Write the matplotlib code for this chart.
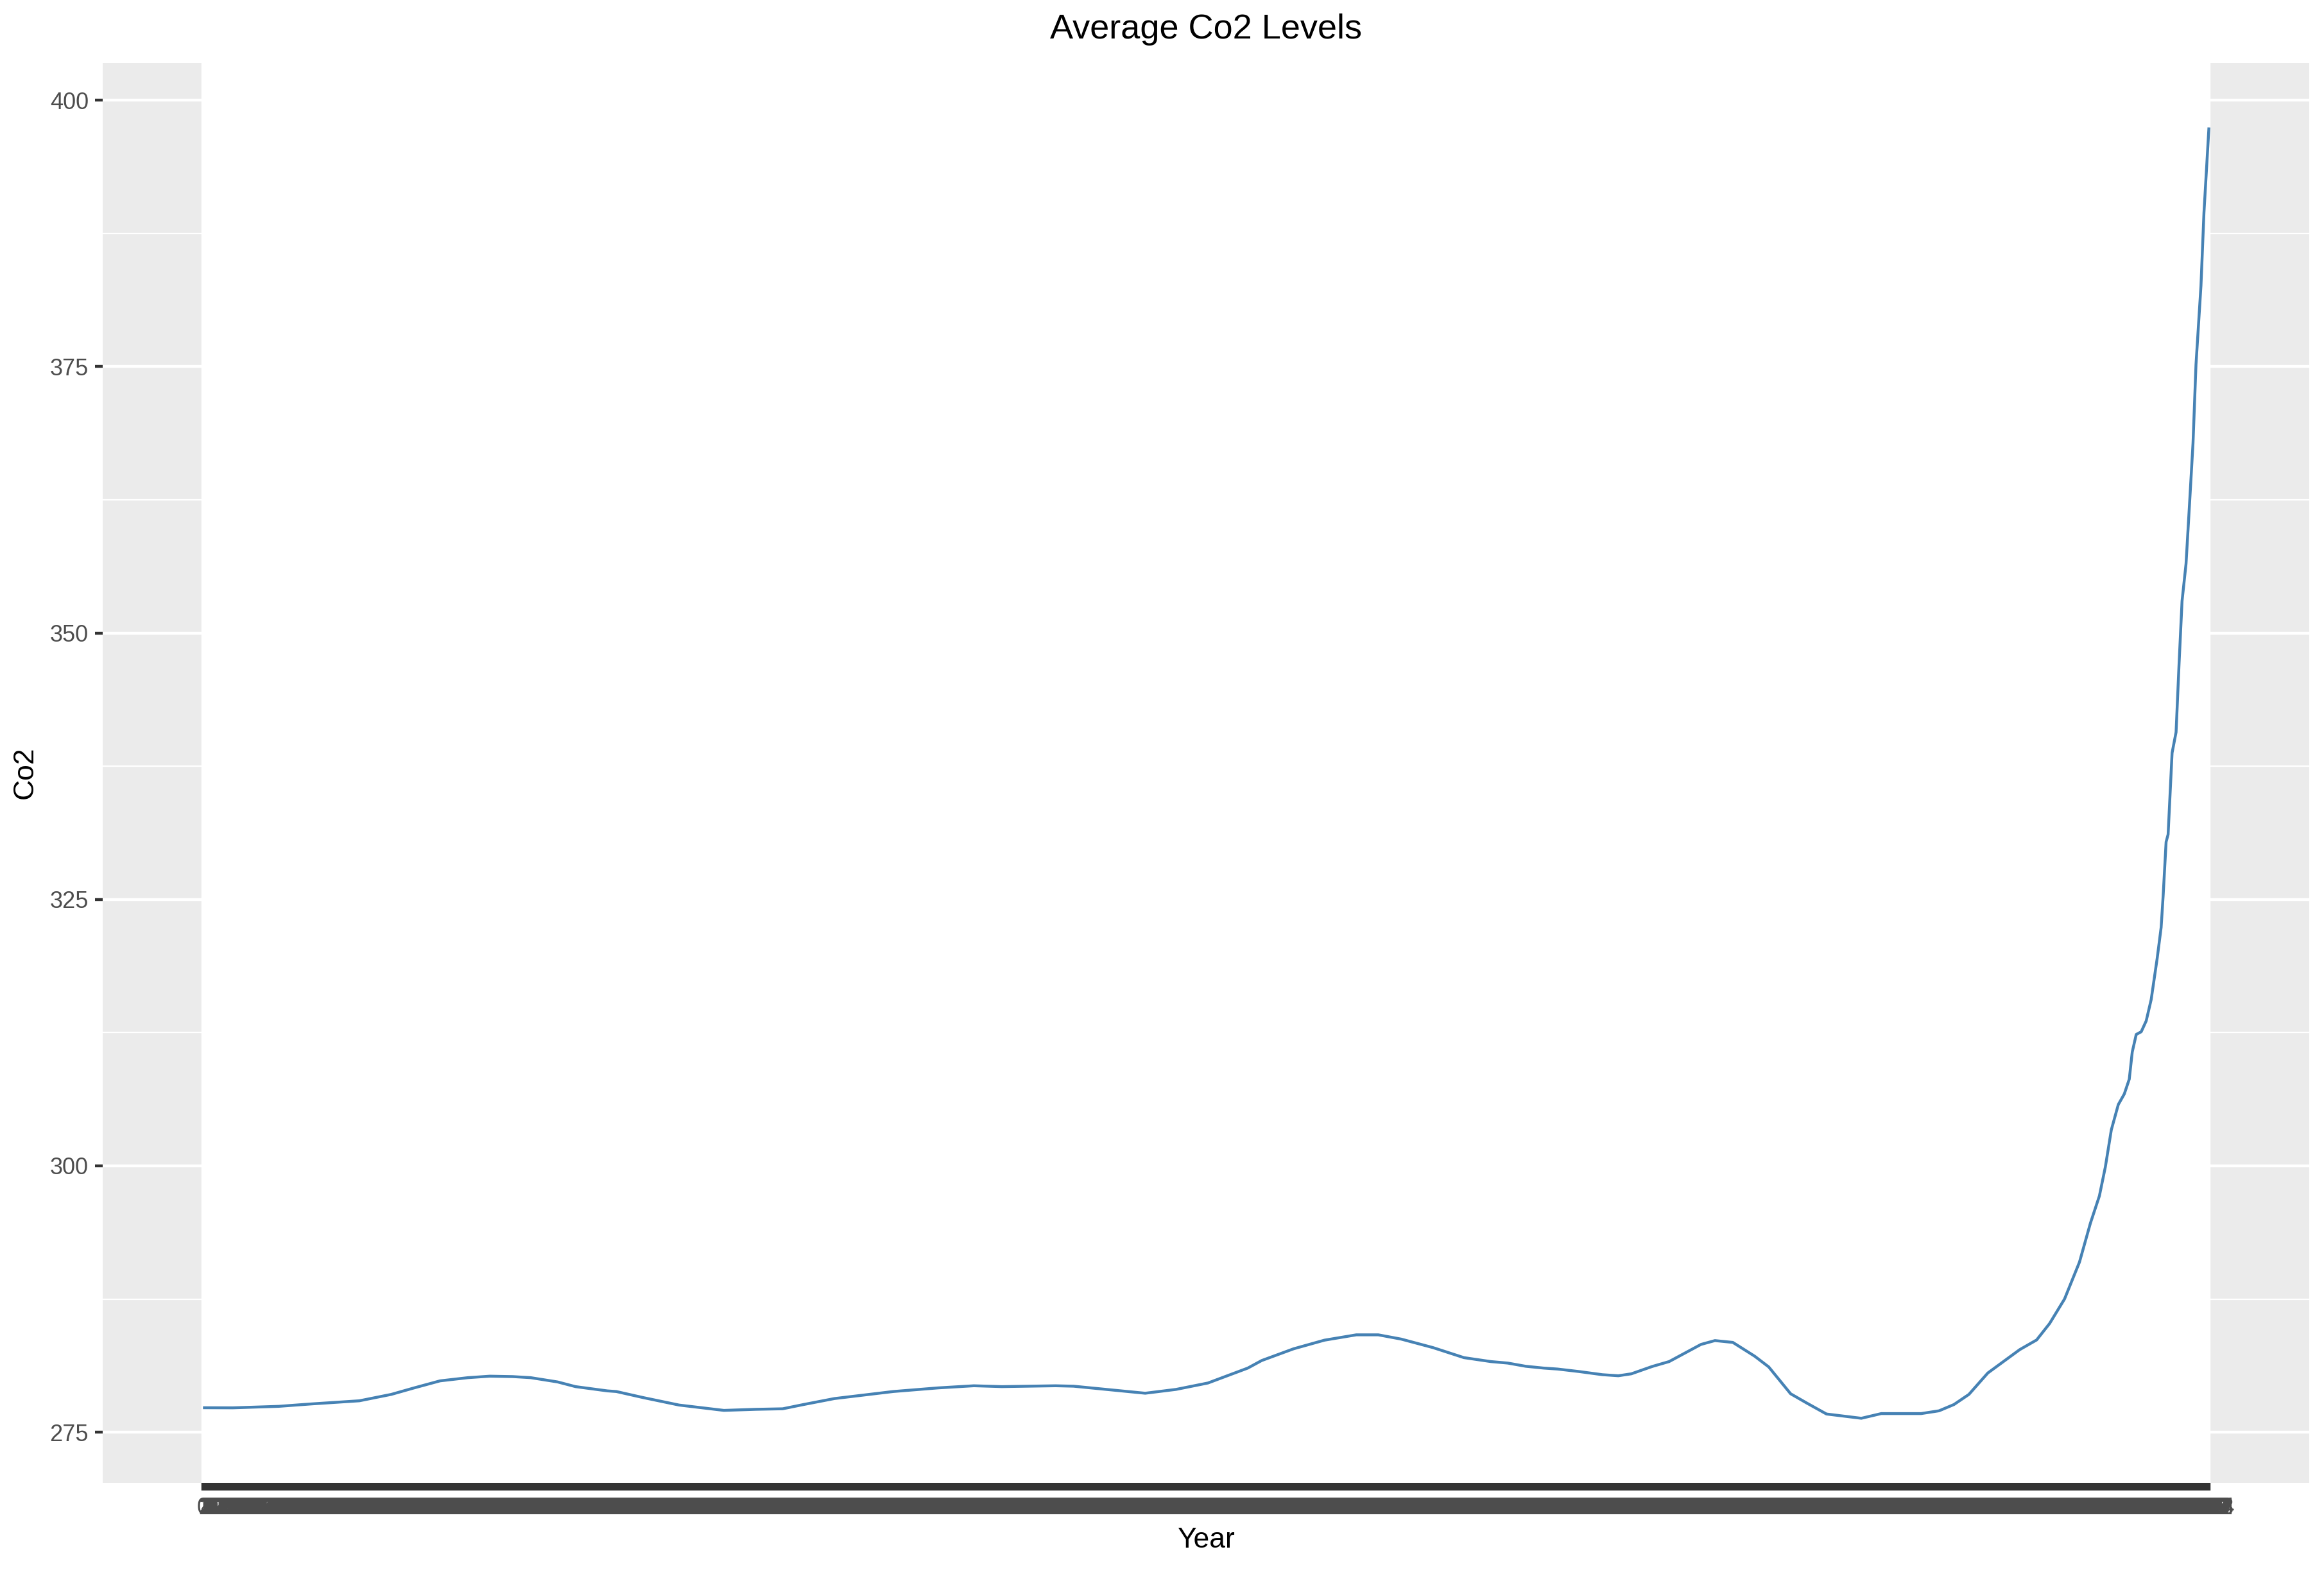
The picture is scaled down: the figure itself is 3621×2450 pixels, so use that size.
import matplotlib
matplotlib.use("Agg")
import matplotlib.pyplot as plt
from matplotlib.ticker import MultipleLocator

# values (year, average CO2)
years = [0, 30, 76, 108, 157, 189, 212, 238, 266, 288, 311, 329, 356, 374,
         406, 415, 442, 478, 523, 555, 582, 603, 634, 693, 738, 774, 802,
         856, 874, 946, 977, 1009, 1049, 1063, 1095, 1126, 1158, 1180, 1203,
         1235, 1266, 1293, 1310, 1328, 1346, 1360, 1382, 1405, 1421, 1434,
         1455, 1472, 1504, 1518, 1536, 1558, 1572, 1594, 1610, 1630, 1665,
         1685, 1725, 1743, 1758, 1773, 1792, 1824, 1841, 1854, 1869, 1884,
         1895, 1904, 1910, 1916, 1923, 1929, 1934, 1937, 1941, 1946, 1951,
         1956, 1962, 1966, 1968, 1971, 1973, 1977, 1981, 1984, 1987, 1991,
         1995, 1998, 2001, 2006, 2009, 2014]
co2 = [277.3, 277.29, 277.43, 277.65, 277.95, 278.55, 279.16, 279.82, 280.12,
       280.26, 280.22, 280.12, 279.72, 279.28, 278.88, 278.82, 278.25, 277.55,
       277.05, 277.15, 277.2, 277.6, 278.16, 278.82, 279.16, 279.36, 279.28,
       279.36, 279.32, 278.66, 279.02, 279.62, 281.02, 281.73, 282.83, 283.64,
       284.14, 284.14, 283.74, 282.94, 282.0, 281.63, 281.49, 281.19, 281.02,
       280.93, 280.69, 280.40, 280.30, 280.48, 281.17, 281.63, 283.24, 283.6,
       283.43, 282.13, 281.13, 278.61, 277.75, 276.71, 276.31, 276.75, 276.75,
       277.01, 277.6, 278.55, 280.56, 282.75, 283.66, 285.2, 287.5, 290.96,
       294.62, 297.17, 299.9, 303.38, 305.75, 306.74, 308.13, 310.68, 312.33,
       312.58, 313.6, 315.6, 319.45, 322.37, 325.3, 330.4, 331.1, 338.75,
       340.7, 347.1, 353.0, 356.5, 362.9, 367.8, 375.2, 382.6, 389.45, 397.45]

# every year is a break on the x axis
year_ticks = list(range(0, 2015))
y_ticks = [275, 300, 325, 350, 375, 400]

plt.rcParams['font.family'] = ['Liberation Sans', 'DejaVu Sans']

fig = plt.figure(figsize=(36.21, 24.5), dpi=100)
ax = fig.add_axes([160 / 3621, 1 - 2311 / 2450, 3438 / 3621, 2213 / 2450])
ax.set_facecolor('#EBEBEB')
for s in ax.spines.values():
    s.set_visible(False)

ax.plot(years, co2, color='#4682B4', lw=3.2, solid_capstyle='butt')

# ggplot-like expansion of 5%
xr = year_ticks[-1] - year_ticks[0]
ax.set_xlim(year_ticks[0] - 0.05 * xr, year_ticks[-1] + 0.05 * xr)
yr = max(co2) - min(co2)
ax.set_ylim(min(co2) - 0.05 * yr, max(co2) + 0.05 * yr)

ax.set_xticks(year_ticks)
ax.set_xticklabels([str(y) for y in year_ticks])
ax.set_yticks(y_ticks)
ax.yaxis.set_minor_locator(MultipleLocator(12.5))

ax.set_axisbelow(True)
ax.grid(True, which='major', color='white', lw=3.2)
ax.grid(True, which='minor', axis='y', color='white', lw=1.6)

ax.tick_params(axis='both', which='major', length=8.3, width=3.2,
               color='#333333', labelcolor='#4D4D4D', labelsize=26, pad=7.5)
ax.tick_params(axis='y', which='minor', length=0)

fig.text(1879 / 3621, 1 - 46 / 2450, 'Average Co2 Levels', ha='center',
         va='center', fontsize=39, color='black')
fig.text(1879 / 3621, 1 - 2401 / 2450, 'Year', ha='center', va='center',
         fontsize=32, color='black')
fig.text(39 / 3621, 1 - 1204 / 2450, 'Co2', ha='center', va='center',
         rotation=90, fontsize=32, color='black')

fig.savefig('out.png', dpi=100)
